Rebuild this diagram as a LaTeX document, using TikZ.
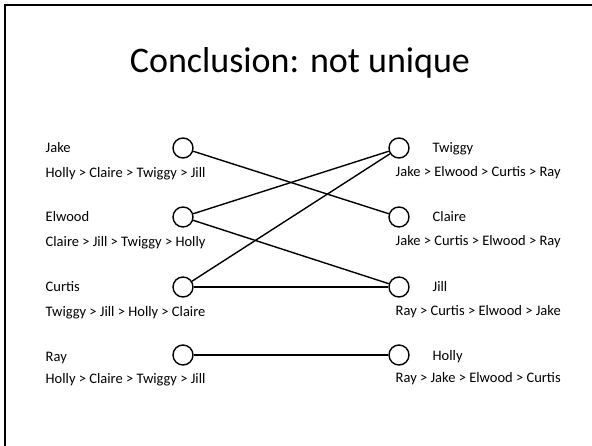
\documentclass[tikz,border=0pt]{standalone}
\usepackage{fontspec}
\setmainfont{Carlito}
\usetikzlibrary{positioning,calc}

\begin{document}
\begin{tikzpicture}[
    x=1pt,y=-1pt,
    line width=1.4pt
  ]
\useasboundingbox (0,0) rectangle (592,446);
\def\r{10pt}

\tikzstyle{person}=[circle,draw,minimum size=2*\r,inner sep=0mm,fill=white];
\tikzstyle{who}=[anchor=base west,inner sep=0mm,font=\fontsize{14.5}{16}\selectfont];

% slide frame
\draw[line width=2.6pt] (5,446) -- (5,5) -- (592,5);

\node[font=\fontsize{36}{40}\selectfont] (title) at (300,63) {Conclusion: not unique};

% proposers
\node[person] (jake) at (183,148) {};
\node[person] (elwood) at (183,217) {};
\node[person] (curtis) at (183,287) {};
\node[person] (ray) at (183,355) {};

% receivers
\node[person] (twiggy) at (399,148) {};
\node[person] (claire) at (399,217) {};
\node[person] (jill) at (399,287) {};
\node[person] (holly) at (399,355) {};

\node[who] at ($ (jake) + (-138,5) $) (jakename) {Jake};
\node[who] at ($ (jake) + (-138,30) $) (jakepref) {Holly > Claire > Twiggy > Jill};
\node[who] at ($ (elwood) + (-138,5) $) (elwoodname) {Elwood};
\node[who] at ($ (elwood) + (-138,30) $) (elwoodpref) {Claire > Jill > Twiggy > Holly};
\node[who] at ($ (curtis) + (-138,5) $) (curtisname) {Curtis};
\node[who] at ($ (curtis) + (-138,30) $) (curtispref) {Twiggy > Jill > Holly > Claire};
\node[who] at ($ (ray) + (-138,7) $) (rayname) {Ray};
\node[who] at ($ (ray) + (-138,29) $) (raypref) {Holly > Claire > Twiggy > Jill};

\node[who] at ($ (twiggy) + (33,5) $) (twiggyname) {Twiggy};
\node[who] at ($ (twiggy) + (-4,29) $) (twiggypref) {Jake > Elwood > Curtis > Ray};
\node[who] at ($ (claire) + (33,5) $) (clairename) {Claire};
\node[who] at ($ (claire) + (-4,29) $) (clairepref) {Jake > Curtis > Elwood > Ray};
\node[who] at ($ (jill) + (33,5) $) (jillname) {Jill};
\node[who] at ($ (jill) + (-4,29) $) (jillpref) {Ray > Curtis > Elwood > Jake};
\node[who] at ($ (holly) + (33,6) $) (hollyname) {Holly};
\node[who] at ($ (holly) + (-4,28) $) (hollypref) {Ray > Jake > Elwood > Curtis};

% matchings
\draw[-] (jake) -- (claire);
\draw[-] (elwood) -- (twiggy);
\draw[-] (elwood) -- (jill);
\draw[-] (curtis) -- (twiggy);
\draw[-] (curtis) -- (jill);
\draw[-] (ray) -- (holly);

\end{tikzpicture}
\end{document}
